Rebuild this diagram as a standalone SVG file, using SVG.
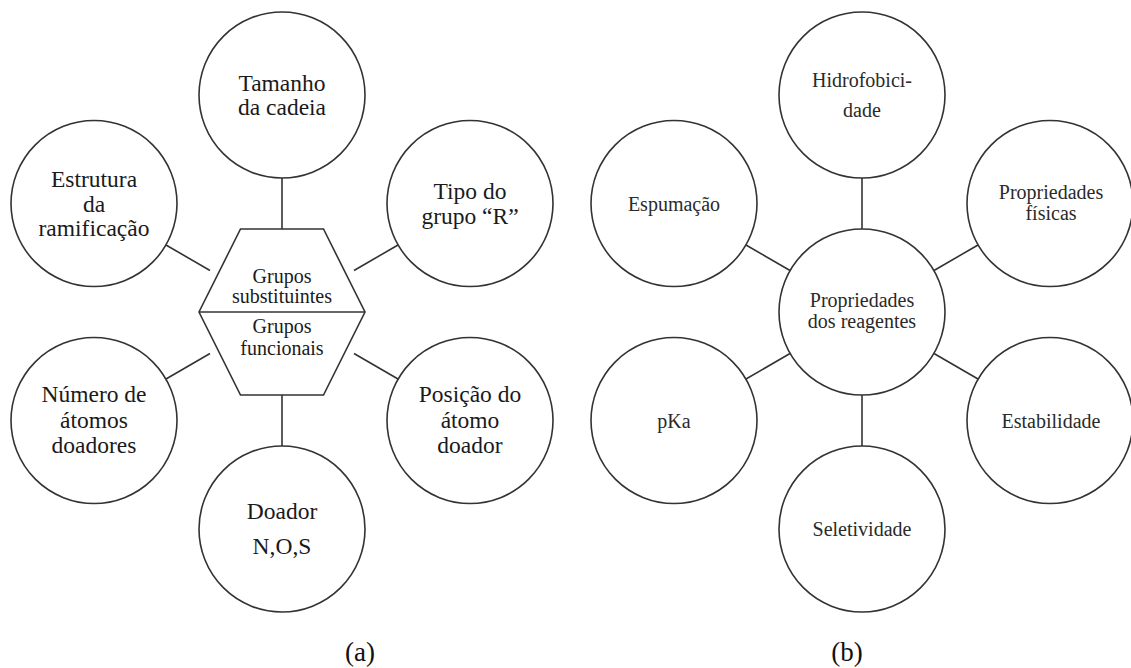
<svg xmlns="http://www.w3.org/2000/svg" width="1131" height="668" viewBox="0 0 1131 668">
<style>
.n{fill:#fff;stroke:#333;stroke-width:1.6}
.c{stroke:#333;stroke-width:1.6;fill:none}
text{font-family:"Liberation Serif","Times New Roman",Times,"DejaVu Serif",serif;text-anchor:middle}
.a{font-size:23.5px;fill:#1a1a1a}
.h{font-size:20px;fill:#1a1a1a}
.b{font-size:20px;fill:#2a2a2a}
.l{font-size:27px;fill:#111}
</style>
<rect width="1131" height="668" fill="#fff"/>
<g id="connectors">
<line class="c" x1="282" y1="178" x2="282" y2="229"/>
<line class="c" x1="210" y1="270.5" x2="166" y2="245"/>
<line class="c" x1="354" y1="270.5" x2="398" y2="245"/>
<line class="c" x1="210" y1="353.5" x2="166" y2="379"/>
<line class="c" x1="354" y1="353.5" x2="398" y2="379"/>
<line class="c" x1="282" y1="395" x2="282" y2="446"/>
<line class="c" x1="862" y1="178" x2="862" y2="229"/>
<line class="c" x1="790" y1="270.5" x2="746" y2="245"/>
<line class="c" x1="934" y1="270.5" x2="978" y2="245"/>
<line class="c" x1="790" y1="353.5" x2="746" y2="379"/>
<line class="c" x1="934" y1="353.5" x2="978" y2="379"/>
<line class="c" x1="862" y1="395" x2="862" y2="446"/>
</g>
<g id="hub-a">
<polygon class="n" points="240.5,229 323.5,229 365,312 323.5,395 240.5,395 199,312"/>
<line class="c" x1="199" y1="312" x2="365" y2="312"/>
<text class="h" x="282" y="283">Grupos</text>
<text class="h" x="282" y="303">substituintes</text>
<text class="h" x="282" y="333">Grupos</text>
<text class="h" x="282" y="355">funcionais</text>
</g>
<g id="tamanho">
<circle class="n" cx="282" cy="95" r="83"/>
<text class="a" x="282" y="91">Tamanho</text>
<text class="a" x="282" y="115">da cadeia</text>
</g>
<g id="estrutura">
<circle class="n" cx="94" cy="203.5" r="83"/>
<text class="a" x="94" y="187">Estrutura</text>
<text class="a" x="94" y="211.5">da</text>
<text class="a" x="94" y="236">ramificação</text>
</g>
<g id="tipo">
<circle class="n" cx="470" cy="203.5" r="83"/>
<text class="a" x="470" y="199">Tipo do</text>
<text class="a" x="470" y="224">grupo “R”</text>
</g>
<g id="numero">
<circle class="n" cx="94" cy="420.5" r="83"/>
<text class="a" x="94" y="402">Número de</text>
<text class="a" x="94" y="428">átomos</text>
<text class="a" x="94" y="453">doadores</text>
</g>
<g id="posicao">
<circle class="n" cx="470" cy="420.5" r="83"/>
<text class="a" x="470" y="402">Posição do</text>
<text class="a" x="470" y="428">átomo</text>
<text class="a" x="470" y="453">doador</text>
</g>
<g id="doador">
<circle class="n" cx="282" cy="529" r="83"/>
<text class="a" x="282" y="519">Doador</text>
<text class="a" x="282" y="554">N,O,S</text>
</g>
<g id="hub-b">
<circle class="n" cx="862" cy="312" r="83"/>
<text class="b" x="862" y="307">Propriedades</text>
<text class="b" x="862" y="328">dos reagentes</text>
</g>
<g id="hidrofobicidade">
<circle class="n" cx="862" cy="95" r="83"/>
<text class="b" x="862" y="87">Hidrofobici-</text>
<text class="b" x="862" y="117">dade</text>
</g>
<g id="espumacao">
<circle class="n" cx="674" cy="203.5" r="83"/>
<text class="b" x="674" y="211">Espumação</text>
</g>
<g id="fisicas">
<circle class="n" cx="1050" cy="203.5" r="83"/>
<text class="b" x="1051" y="199">Propriedades</text>
<text class="b" x="1051" y="220">físicas</text>
</g>
<g id="pka">
<circle class="n" cx="674" cy="420.5" r="83"/>
<text class="b" x="674" y="428">pKa</text>
</g>
<g id="estabilidade">
<circle class="n" cx="1050" cy="420.5" r="83"/>
<text class="b" x="1051" y="428">Estabilidade</text>
</g>
<g id="seletividade">
<circle class="n" cx="862" cy="529" r="83"/>
<text class="b" x="862" y="536">Seletividade</text>
</g>
<text class="l" x="360" y="661">(a)</text>
<text class="l" x="847" y="661">(b)</text>
</svg>
